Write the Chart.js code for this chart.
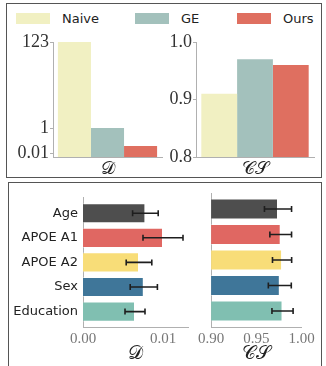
<!DOCTYPE html>
<html>
<head>
<meta charset="utf-8">
<script src="https://cdn.jsdelivr.net/npm/chart.js@4.4.1/dist/chart.umd.min.js"></script>
<style>
  html, body { margin: 0; padding: 0; background: #fff; width: 326px; height: 366px; overflow: hidden; }
  body { position: relative; }
  .frame { position: absolute; border: 1.5px solid #555; box-sizing: border-box; }
  .box { position: absolute; }
  .legend-item { position: absolute; top: 10px; height: 18px; font: 13px "DejaVu Sans", sans-serif; color: #222; white-space: nowrap; }
  .legend-item .sw { position: absolute; left: 0; top: 3px; width: 34px; height: 11px; }
  .legend-item .tx { position: absolute; left: 46px; top: 0; line-height: 17px; }
</style>
</head>
<body>
<div class="frame" style="left:6px; top:3px; width:316px; height:175px;"></div>
<div class="frame" style="left:8px; top:182px; width:314px; height:200px;"></div>
<div id="legend"></div>
<div class="box" id="box1"><canvas id="c1"></canvas></div>
<div class="box" id="box2"><canvas id="c2"></canvas></div>
<div class="box" id="box3"><canvas id="c3"></canvas></div>
<div class="box" id="box4"><canvas id="c4"></canvas></div>

<script>
// ---- data ----
const methods = ['Naive', 'GE', 'Ours'];
const methodColors = ['#f1f0c2', '#a3c1bc', '#df6f60'];
const methodD = [123, 1, 0.036];
const methodCS = [0.91, 0.97, 0.96];
const dTicks = [0.01, 1, 123];
const csTicks = [0.8, 0.9, 1.0];

const features = ['Age', 'APOE A1', 'APOE A2', 'Sex', 'Education'];
const featureColors = ['#4e4e4e', '#e06762', '#f8dd78', '#3f7699', '#80bfb1'];
const featureD = [0.0078, 0.0100, 0.0070, 0.0076, 0.0065];
const featureDErr = [0.0016, 0.0025, 0.0016, 0.0017, 0.00125];
const featureCS = [0.974, 0.977, 0.9785, 0.976, 0.979];
const featureCSErr = [0.015, 0.012, 0.0106, 0.0127, 0.0117];
const featureDTicks = [0, 0.01];
const featureCSTicks = [0.90, 0.95, 1.00];

// ---- fonts / styles ----
const SERIF = '"Liberation Serif", "DejaVu Serif", serif';
const SANS = '"DejaVu Sans", sans-serif';
const SPINE = '#b0b0b0';

// ---- legend ----
const legendSlots = [16, 135, 237];
const legendEl = document.getElementById('legend');
methods.forEach((m, i) => {
  const item = document.createElement('div');
  item.className = 'legend-item';
  item.style.left = legendSlots[i] + 'px';
  item.innerHTML = '<span class="sw" style="background:' + methodColors[i] + '"></span><span class="tx"></span>';
  item.querySelector('.tx').textContent = m;
  legendEl.appendChild(item);
});

// ---- segmented value axis: linear below the first tick, log-interpolated between ticks ----
const segValues = [0, 0.01, 1, 123];
const segFractions = [0, 4 / 115, 29 / 115, 1];
function segFraction(v) {
  if (v <= segValues[0]) return segFractions[0];
  for (let i = 1; i < segValues.length; i++) {
    if (v <= segValues[i] || i === segValues.length - 1) {
      const a = segValues[i - 1], b = segValues[i];
      const t = a > 0 ? Math.log(v / a) / Math.log(b / a) : (v - a) / (b - a);
      return segFractions[i - 1] + t * (segFractions[i] - segFractions[i - 1]);
    }
  }
}
function segValue(f) {
  for (let i = 1; i < segFractions.length; i++) {
    if (f <= segFractions[i] || i === segFractions.length - 1) {
      const a = segValues[i - 1], b = segValues[i];
      const t = (f - segFractions[i - 1]) / (segFractions[i] - segFractions[i - 1]);
      return a > 0 ? a * Math.pow(b / a, t) : a + t * (b - a);
    }
  }
}
class SegmentedScale extends Chart.LinearScale {
  getPixelForValue(value) {
    if (value === null || value === undefined || isNaN(value)) return NaN;
    return this.getPixelForDecimal(segFraction(value));
  }
  getValueForPixel(pixel) {
    return segValue(this.getDecimalForPixel(pixel));
  }
}
SegmentedScale.id = 'segmented';
SegmentedScale.defaults = Chart.LinearScale.defaults;
Chart.register(SegmentedScale);

// ---- error bars drawn through the value scale ----
const errorBars = {
  id: 'errorBars',
  afterDatasetsDraw(chart, args, opts) {
    const errs = opts.errors;
    if (!errs) return;
    const meta = chart.getDatasetMeta(0);
    const xs = chart.scales.x;
    const ctx = chart.ctx;
    ctx.save();
    ctx.strokeStyle = opts.color || '#222';
    ctx.lineWidth = opts.width || 1.5;
    meta.data.forEach((bar, i) => {
      const v = meta._parsed[i].x, e = errs[i];
      const x1 = xs.getPixelForValue(v - e), x2 = xs.getPixelForValue(v + e);
      const y = bar.y, c = (opts.cap || 6) / 2;
      ctx.beginPath();
      ctx.moveTo(x1, y); ctx.lineTo(x2, y);
      ctx.moveTo(x1, y - c); ctx.lineTo(x1, y + c);
      ctx.moveTo(x2, y - c); ctx.lineTo(x2, y + c);
      ctx.stroke();
    });
    ctx.restore();
  }
};

// ---- layout helper: place a canvas box and pin its chart area ----
function place(boxId, box, area) {
  const el = document.getElementById(boxId);
  el.style.left = box.x + 'px'; el.style.top = box.y + 'px';
  el.style.width = box.w + 'px'; el.style.height = box.h + 'px';
  return {
    padding: { left: 0, top: area.t - box.y, right: box.x + box.w - area.r, bottom: 0 },
    yW: area.l - box.x,
    xH: box.y + box.h - area.b
  };
}

Chart.defaults.animation = false;
Chart.defaults.events = [];
Chart.defaults.plugins.tooltip.enabled = false;
Chart.defaults.plugins.legend.display = false;

// ---- top row: method comparison ----
function methodChart(canvasId, boxId, box, area, values, yScale, label) {
  const L = place(boxId, box, area);
  return new Chart(document.getElementById(canvasId), {
    type: 'bar',
    data: {
      labels: [label],
      datasets: methods.map((m, i) => ({
        label: m,
        data: [values[i]],
        backgroundColor: methodColors[i],
        borderWidth: 0,
        categoryPercentage: 0.91,
        barPercentage: 1.0
      }))
    },
    options: {
      responsive: true,
      maintainAspectRatio: false,
      layout: { padding: L.padding },
      scales: {
        x: {
          type: 'category',
          offset: true,
          grid: { display: false, drawTicks: false },
          border: { display: true, color: SPINE, width: 1 },
          ticks: { font: { family: SERIF, size: 18 }, color: '#222', padding: 1, maxRotation: 0 },
          afterFit(s) { s.height = L.xH; }
        },
        y: Object.assign({
          grid: { display: true, drawOnChartArea: false, drawTicks: true, tickLength: 3, color: SPINE },
          border: { display: true, color: SPINE, width: 1 },
          afterFit(s) { s.width = L.yW; }
        }, yScale)
      }
    }
  });
}

methodChart('c1', 'box1', { x: 8, y: 28, w: 162, h: 149 }, { l: 53, t: 42, r: 162, b: 157 }, methodD, {
  type: 'segmented', min: 0, max: 123,
  afterBuildTicks(s) { s.ticks = dTicks.map(v => ({ value: v })); },
  ticks: { font: { family: SERIF, size: 18 }, color: '#333', padding: 1, callback: v => String(v) }
}, '𝒟');

methodChart('c2', 'box2', { x: 165, y: 28, w: 157, h: 149 }, { l: 196, t: 42, r: 314, b: 157 }, methodCS, {
  type: 'linear', min: 0.8, max: 1.0,
  afterBuildTicks(s) { s.ticks = csTicks.map(v => ({ value: v })); },
  ticks: { font: { family: SERIF, size: 18 }, color: '#333', padding: 1, callback: v => v.toFixed(1) }
}, '𝒞𝒮');

// ---- bottom row: per-feature horizontal bars with error bars ----
function featureChart(canvasId, boxId, box, area, values, errs, xMin, xMax, xTicks, title, showLabels) {
  const L = place(boxId, box, area);
  return new Chart(document.getElementById(canvasId), {
    type: 'bar',
    data: {
      datasets: [{
        data: values.map((v, i) => ({ x: v, y: i })),
        backgroundColor: featureColors,
        borderColor: 'rgba(255,255,255,0.35)',
        borderWidth: 1,
        categoryPercentage: 0.82,
        barPercentage: 1.0
      }]
    },
    plugins: [errorBars],
    options: {
      indexAxis: 'y',
      responsive: true,
      maintainAspectRatio: false,
      layout: { padding: L.padding },
      plugins: { errorBars: { errors: errs, color: '#1e1e1e', width: 1.6, cap: 6 } },
      scales: {
        x: {
          type: 'linear', min: xMin, max: xMax, offset: false, beginAtZero: false,
          afterBuildTicks(s) { s.ticks = xTicks.map(v => ({ value: v })); },
          grid: { display: false, drawTicks: false, offset: false },
          border: { display: true, color: SPINE, width: 1 },
          ticks: { font: { family: SERIF, size: 15 }, color: '#777', padding: 3, callback: v => v.toFixed(2), maxRotation: 0 },
          title: { display: true, text: title, font: { family: SERIF, size: 19 }, color: '#222', padding: { top: 0, bottom: 1 } },
          afterFit(s) { s.height = L.xH; }
        },
        y: {
          type: 'linear', reverse: true, min: -0.627, max: 4.627, offset: false,
          afterBuildTicks(s) { s.ticks = features.map((f, i) => ({ value: i })); },
          grid: { display: false, drawTicks: false, offset: false },
          border: { display: true, color: SPINE, width: 1 },
          ticks: { display: showLabels, font: { family: SANS, size: 13 }, color: '#222', padding: 5, callback: v => features[v] },
          afterFit(s) { s.width = L.yW; }
        }
      }
    }
  });
}

featureChart('c3', 'box3', { x: 10, y: 185, w: 185, h: 181 }, { l: 83, t: 193, r: 188, b: 327 },
  featureD, featureDErr, 0, 0.013125, featureDTicks, '𝒟', true);
featureChart('c4', 'box4', { x: 195, y: 185, w: 126, h: 181 }, { l: 209.3, t: 193, r: 301.5, b: 327 },
  featureCS, featureCSErr, 0.9, 1.0, featureCSTicks, '𝒞𝒮', false);
</script>
</body>
</html>
